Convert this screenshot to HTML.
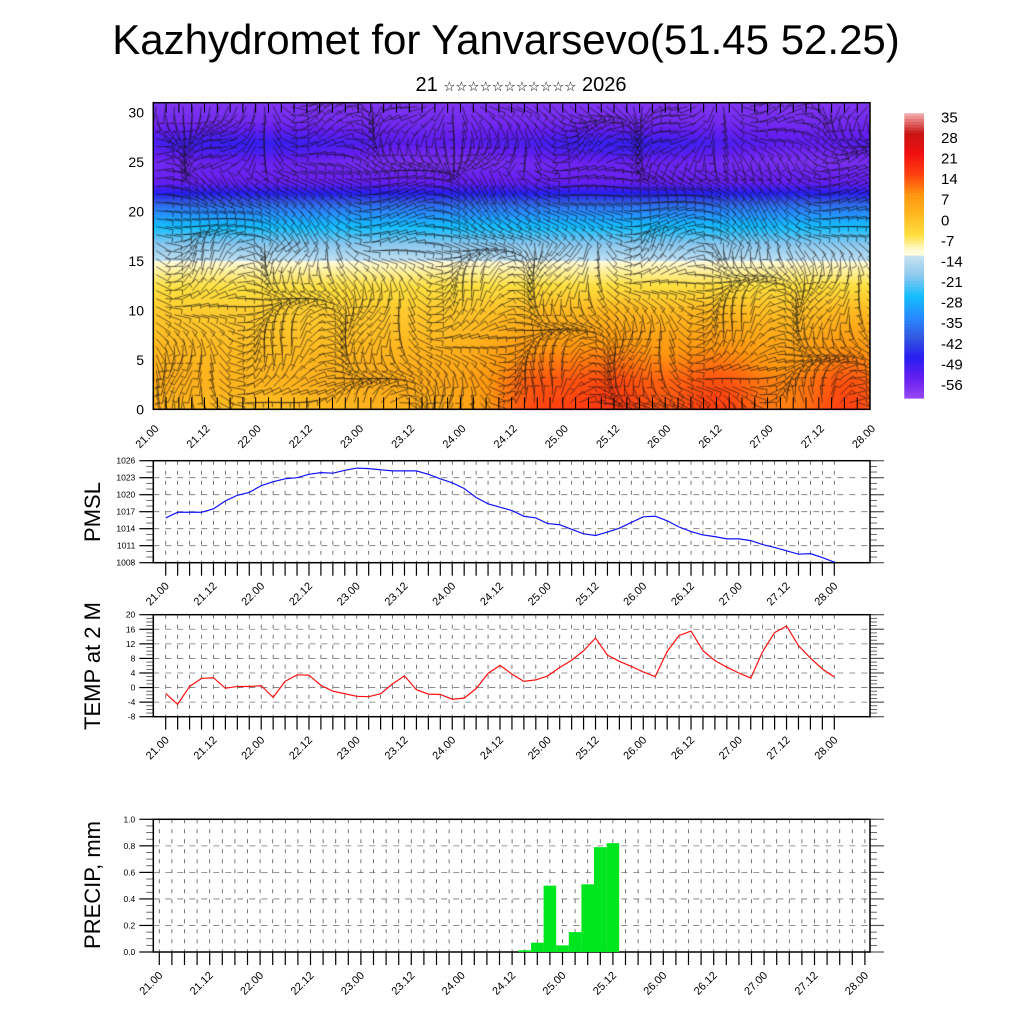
<!DOCTYPE html>
<html><head><meta charset="utf-8">
<style>
html,body{margin:0;padding:0;background:#fff;}
#wrap{position:relative;width:1024px;height:1024px;overflow:hidden;background:#fff;font-family:"Liberation Sans","DejaVu Sans",sans-serif;}
canvas{position:absolute;left:0;top:0;}
svg{position:absolute;left:0;top:0;}
</style></head>
<body>
<div id="wrap">
<canvas id="field" width="1024" height="1024"></canvas>
<svg id="svg" width="1024" height="1024" xmlns="http://www.w3.org/2000/svg">
<text x="506" y="54" font-size="42" text-anchor="middle">Kazhydromet for Yanvarsevo(51.45 52.25)</text>
<text x="521" y="91" font-size="20" text-anchor="middle">21 <tspan font-size="13.5" font-family="'DejaVu Sans',sans-serif">☆☆☆☆☆☆☆☆☆☆☆</tspan> 2026</text>
</svg>
</div>
<script>
// ---- data ----
const timeLabels = ["21.00","21.12","22.00","22.12","23.00","23.12","24.00","24.12","25.00","25.12","26.00","26.12","27.00","27.12","28.00"];
const pmslValues = [1015.9,1016.9,1016.9,1016.9,1017.5,1018.9,1019.9,1020.4,1021.6,1022.3,1022.8,1023.0,1023.6,1023.9,1023.8,1024.3,1024.7,1024.6,1024.4,1024.2,1024.2,1024.2,1023.6,1022.8,1022.1,1021.1,1019.5,1018.4,1017.8,1017.2,1016.2,1015.9,1014.9,1014.7,1013.9,1013.1,1012.8,1013.4,1014.1,1015.1,1016.1,1016.2,1015.4,1014.3,1013.5,1012.9,1012.6,1012.2,1012.2,1011.9,1011.2,1010.7,1010.1,1009.5,1009.6,1008.9,1008.1];
const tempValues = [-1.6,-4.6,0.3,2.5,2.7,-0.2,0.3,0.3,0.5,-2.7,1.7,3.5,3.4,0.6,-1.0,-1.7,-2.4,-2.5,-1.7,1.0,3.2,-0.6,-1.8,-1.9,-3.2,-2.9,-0.3,3.9,6.1,3.7,1.7,2.1,3.2,5.5,7.5,10.1,13.6,8.9,7.2,5.8,4.3,3.0,9.9,14.3,15.5,10.1,7.4,5.6,4.0,2.6,9.9,15.1,16.9,11.5,8.1,5.1,2.9];
const precipValues = [0,0,0,0,0,0,0,0,0,0,0,0,0,0,0,0,0,0,0,0,0,0,0,0,0,0,0,0,0,0.013,0.07,0.50,0.05,0.15,0.51,0.79,0.82,0,0,0,0,0,0,0,0,0,0,0,0,0,0,0,0,0,0,0,0];
const pmslTicks = [1008,1011,1014,1017,1020,1023,1026];
const tempTicks = [-8,-4,0,4,8,12,16,20];
const precipTicks = [0.0,0.2,0.4,0.6,0.8,1.0];
const colorbarLabels = [35,28,21,14,7,0,-7,-14,-21,-28,-35,-42,-49,-56];
const heightTicks = [0,5,10,15,20,25,30];

const NS="http://www.w3.org/2000/svg";
const svg=document.getElementById('svg');
function el(tag,attrs,parent){const e=document.createElementNS(NS,tag);for(const k in attrs)e.setAttribute(k,attrs[k]);(parent||svg).appendChild(e);return e;}

// ---- color map ----
const cstops=[[35,[244,176,176]],[28,[200,20,20]],[21,[240,16,16]],[14,[255,64,16]],[7,[255,150,16]],[0,[255,184,32]],[-7,[255,224,64]],[-12,[255,250,210]],[-13.9,[255,252,225]],[-14,[200,228,242]],[-21,[140,200,238]],[-28,[20,190,255]],[-35,[40,140,255]],[-42,[50,90,225]],[-49,[40,30,240]],[-56,[100,30,240]],[-63,[150,70,240]]];
function cmap(v){
  if(v>=cstops[0][0])return cstops[0][1];
  for(let i=0;i<cstops.length-1;i++){const a=cstops[i],b=cstops[i+1];
    if(v<=a[0]&&v>=b[0]){const t=(a[0]-v)/(a[0]-b[0]);return a[1].map((c,j)=>Math.round(c+(b[1][j]-c)*t));}}
  return cstops[cstops.length-1][1];
}

// ---- top cross-section ----
const TL=153.3,TR=870,TT=102.7,TB=409.3;
const hy=z=>TB-z*9.89;
const profZ=[0,3,6,10,13,14.9,15.1,17,19,20.5,21.8,23,25,27,29,31];
const profT=[2,3,1,-3,-8,-12,-15,-22,-30,-38,-48,-56,-58,-53,-58,-60];
function baseT(z){for(let i=0;i<profZ.length-1;i++){if(z>=profZ[i]&&z<=profZ[i+1]){const t=(z-profZ[i])/(profZ[i+1]-profZ[i]);return profT[i]+(profT[i+1]-profT[i])*t;}}return -60;}
function fieldT(fx,z){
  let v=baseT(z);
  if(z<13){const w=Math.max(0,1-z/13);
    const g=(c,s)=>Math.exp(-((fx-c)*(fx-c))/(2*s*s));
    v+=w*(9*g(0.53,0.05)+8*g(0.64,0.05)+7*g(0.79,0.05)+10*g(0.97,0.05)+4*g(0.72,0.12)+2*g(0.85,0.2)-3*g(0.15,0.1));
  }
  if(z>=24&&z<29){v+=2.5*Math.sin(fx*12)*Math.exp(-((z-26.5)**2)/3);}
  return v;
}
const cv=document.getElementById('field');const ctx=cv.getContext('2d');
const img=ctx.createImageData(Math.round(TR-TL),Math.round(TB-TT));
for(let py=0;py<img.height;py++){const z=(TB-(TT+py))/9.89;
  for(let px=0;px<img.width;px++){const c=cmap(fieldT(px/img.width,z));const i=(py*img.width+px)*4;
    img.data[i]=c[0];img.data[i+1]=c[1];img.data[i+2]=c[2];img.data[i+3]=255;}}
ctx.putImageData(img,Math.round(TL),Math.round(TT));
// wind barbs texture
ctx.save();ctx.beginPath();ctx.rect(TL,TT,TR-TL,TB-TT);ctx.clip();
ctx.strokeStyle='rgba(15,15,15,0.75)';ctx.lineWidth=0.8;
for(let gx=TL+3;gx<TR;gx+=9){for(let gy=TT+4;gy<TB;gy+=8){
  const fx=(gx-TL)/(TR-TL),fz=(TB-gy)/(TB-TT);
  let a=Math.sin(fx*19+fz*7)*1.2+Math.cos(fx*31-fz*11)*0.8+fz*1.2;
  if(fz>0.55&&fz<0.8)a=a*0.4;
  const L=17,dx=Math.cos(a)*L,dy=Math.sin(a)*L;
  ctx.beginPath();ctx.moveTo(gx,gy);ctx.lineTo(gx+dx,gy+dy);
  ctx.lineTo(gx+dx-dy*0.3,gy+dy+dx*0.3);ctx.stroke();
}}
ctx.restore();
el('rect',{x:TL,y:TT,width:TR-TL,height:TB-TT,fill:'none',stroke:'#000','stroke-width':1.5,});
for(let k=0;k<=56;k++){const x=TL+k*(TR-TL)/56;el('line',{x1:x,y1:TB,x2:x,y2:TB-12,stroke:'#000','stroke-width':1});el('line',{x1:x,y1:TT,x2:x,y2:TT+10,stroke:'#000','stroke-width':1});}
heightTicks.forEach(h=>{const y=hy(h);
  const t=el('text',{x:144,y:y+5,'font-size':14,'text-anchor':'end'});t.textContent=h;
  
  
});
timeLabels.forEach((s,i)=>{const x=TL+i*(TR-TL)/14;
  const t=el('text',{x:x+6,y:TB+20,'font-size':11,'text-anchor':'end',transform:`rotate(-45 ${x+6} ${TB+20})`});t.textContent=s;
  
  
});
// colorbar
const CBL=904.3,CBR=924,CBT=113.3,CBB=398;
for(let i=0;i<100;i++){const v=35-(i+0.5)*(98/100);const c=cmap(v);
  const r=el('rect',{x:CBL,y:CBT+i*(CBB-CBT)/100,width:CBR-CBL,height:(CBB-CBT)/100+0.6,fill:`rgb(${c})`});
  
  
}
colorbarLabels.forEach((v,i)=>{const y=CBT+3+i*(CBB-CBT-17)/13;
  const t=el('text',{x:941,y:y+6,'font-size':15});t.textContent=v;
  
  
});

// ---- line panels ----
function panel(o){
  const {L,R,T,B,min,max,ticks,minor,title,titleY,name}=o;
  const ys=v=>B-(v-min)/(max-min)*(B-T);
  const g=el('g',{});
  const xs=o.xs;
  for(let k=0;k<o.n;k++){el('line',{x1:xs(k),y1:T,x2:xs(k),y2:B,stroke:'#555','stroke-width':0.8,'stroke-dasharray':'4,6'},g);}
  ticks.forEach(v=>{if(v>min&&v<max)el('line',{x1:L,y1:ys(v),x2:R,y2:ys(v),stroke:'#777','stroke-width':0.8,'stroke-dasharray':'6,6'},g);});
  for(let v=min;v<=max+1e-9;v+=minor){const y=ys(v);el('line',{x1:L-7,y1:y,x2:L,y2:y,stroke:'#444','stroke-width':0.8},g);el('line',{x1:R,y1:y,x2:R+7,y2:y,stroke:'#444','stroke-width':0.8},g);}
  ticks.forEach(v=>{const y=ys(v);el('line',{x1:L-14,y1:y,x2:L,y2:y,stroke:'#000','stroke-width':1.2},g);el('line',{x1:R,y1:y,x2:R+14,y2:y,stroke:'#555','stroke-width':1.2},g);
    const t=el('text',{x:L-18,y:y+3,'font-size':8.5,'text-anchor':'end'},g);t.textContent=o.fmt?o.fmt(v):v;
    
    
  });
  for(let k=0;k<o.n;k++){el('line',{x1:xs(k),y1:B,x2:xs(k),y2:B+13,stroke:'#000','stroke-width':1.2},g);}
  timeLabels.forEach((s,i)=>{const x=xs(i*4);
    const t=el('text',{x:x+4,y:B+24,'font-size':11,'text-anchor':'end',transform:`rotate(-45 ${x+4} ${B+24})`},g);t.textContent=s;
    
    
  });
  el('rect',{x:L,y:T,width:R-L,height:B-T,fill:'none',stroke:'#000','stroke-width':1.5},g);
  const tt=el('text',{x:100,y:titleY,'font-size':22,'text-anchor':'middle',transform:`rotate(-90 100 ${titleY})`},g);tt.textContent=title;
  
  
  return {ys,g};
}
const lxs=k=>165.7+k*(834.3-165.7)/56;
const p1=panel({L:153.3,R:870,T:460.7,B:562.7,min:1008,max:1026,ticks:pmslTicks,minor:1,title:'PMSL',titleY:512,name:'pmsl',xs:lxs,n:57});
const pl=el('polyline',{points:pmslValues.map((v,k)=>lxs(k)+','+p1.ys(v)).join(' '),fill:'none',stroke:'#1010ff','stroke-width':1.2});


const p2=panel({L:153.3,R:870,T:614.7,B:716.7,min:-8,max:20,ticks:tempTicks,minor:1,title:'TEMP at 2 M',titleY:666,name:'temp',xs:lxs,n:57});
const tl=el('polyline',{points:tempValues.map((v,k)=>lxs(k)+','+p2.ys(v)).join(' '),fill:'none',stroke:'#ff1010','stroke-width':1.2});


const pxs=k=>159.3+k*12.6;
const p3=panel({L:153.3,R:870,T:819.3,B:952,min:0,max:1,ticks:precipTicks,minor:0.05,title:'PRECIP, mm',titleY:885,name:'precip',xs:pxs,n:57,fmt:v=>v.toFixed(1)});
precipValues.forEach((v,k)=>{if(v<=0)return;const y=p3.ys(v);
  const r=el('rect',{x:pxs(k)-6.3,y:y,width:12.6,height:952-y,fill:'#00e61e'});
  
  
});
</script>
</body></html>
